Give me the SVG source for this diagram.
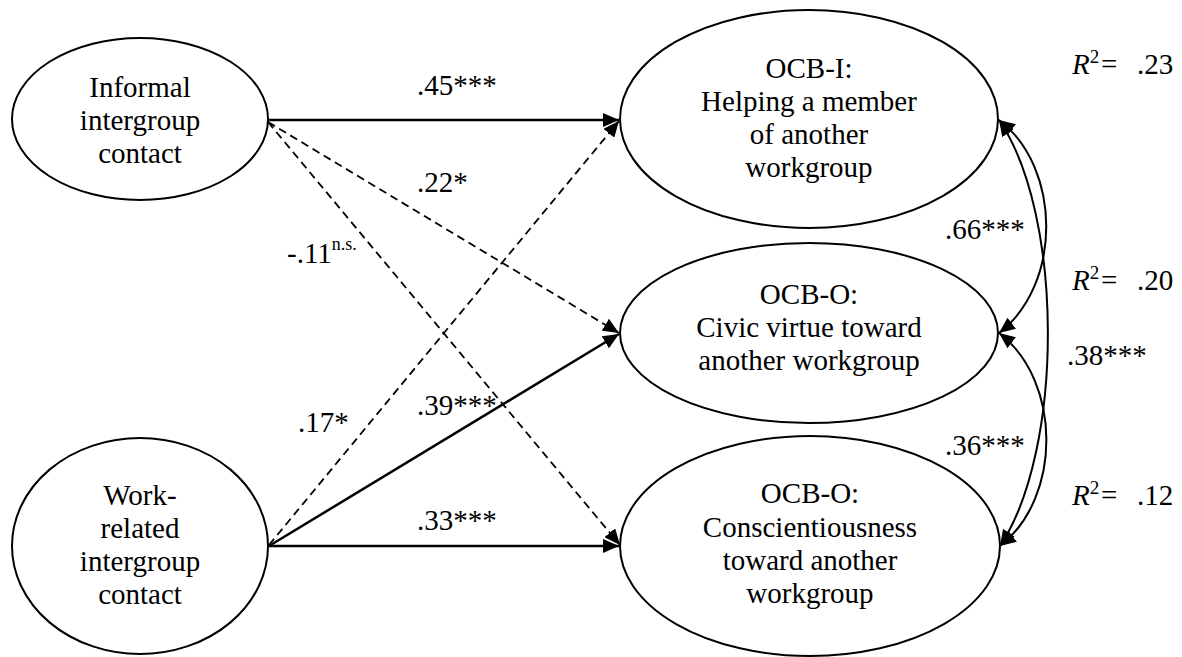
<svg xmlns="http://www.w3.org/2000/svg" width="1182" height="657" viewBox="0 0 1182 657">
<style>
text{font-family:"Liberation Serif","Times New Roman",Times,serif;font-size:29px;fill:#000}
.nt{text-anchor:middle}
.node{fill:#fff;stroke:#000;stroke-width:2}
.solid{fill:none;stroke:#000;stroke-width:2.5}
.dash{fill:none;stroke:#000;stroke-width:1.8;stroke-dasharray:8 5}
.curve{fill:none;stroke:#000;stroke-width:2}
.sup{font-size:19px}
.ns{font-size:18px}
.it{font-style:italic}
</style>
<defs>
<marker id="ah" markerUnits="userSpaceOnUse" markerWidth="17" markerHeight="14" refX="16" refY="7" orient="auto">
<path d="M0,0 L16,7 L0,14 z" fill="#000"/>
</marker>
<marker id="ah2" markerUnits="userSpaceOnUse" markerWidth="17" markerHeight="14" refX="16" refY="7" orient="auto-start-reverse">
<path d="M0,0 L16,7 L0,14 z" fill="#000"/>
</marker>
</defs>
<g id="connectors">
<line class="solid" x1="268" y1="120" x2="619" y2="120" marker-end="url(#ah)"/>
<line class="dash" x1="268" y1="122" x2="619" y2="333" marker-end="url(#ah)"/>
<line class="dash" x1="268" y1="122" x2="620" y2="545" marker-end="url(#ah)"/>
<line class="dash" x1="269" y1="545" x2="619" y2="121" marker-end="url(#ah)"/>
<line class="solid" x1="269" y1="546" x2="619" y2="334" marker-end="url(#ah)"/>
<line class="solid" x1="269" y1="546" x2="619" y2="546" marker-end="url(#ah)"/>
<path class="curve" d="M999,120 C1062,168 1062,285 999,333" marker-start="url(#ah2)" marker-end="url(#ah2)"/>
<path class="curve" d="M999,333 C1062,381 1062,498 1000,546" marker-start="url(#ah2)" marker-end="url(#ah2)"/>
<path class="curve" d="M999,120 C1064,215 1064,450 1000,546" marker-start="url(#ah2)" marker-end="url(#ah2)"/>
</g>
<g id="labels">
<text x="417" y="95">.45***</text>
<text x="417" y="192">.22*</text>
<text x="287" y="263">-.11<tspan class="ns" dy="-13">n.s.</tspan></text>
<text x="298" y="432">.17*</text>
<text x="417" y="415">.39***</text>
<text x="417" y="530">.33***</text>
<text x="945" y="239">.66***</text>
<text x="945" y="455">.36***</text>
<text x="1067" y="365">.38***</text>
<text x="1072" y="74"><tspan class="it">R</tspan><tspan class="sup" dy="-11">2</tspan><tspan x="1101" dy="11">=</tspan><tspan x="1137">.23</tspan></text>
<text x="1072" y="290"><tspan class="it">R</tspan><tspan class="sup" dy="-11">2</tspan><tspan x="1101" dy="11">=</tspan><tspan x="1137">.20</tspan></text>
<text x="1072" y="505"><tspan class="it">R</tspan><tspan class="sup" dy="-11">2</tspan><tspan x="1101" dy="11">=</tspan><tspan x="1137">.12</tspan></text>
</g>
<g id="informal">
<ellipse class="node" cx="140" cy="119" rx="128" ry="81"/>
<text class="nt" x="140" y="97">Informal</text>
<text class="nt" x="140" y="130">intergroup</text>
<text class="nt" x="140" y="163">contact</text>
</g>
<g id="workrelated">
<ellipse class="node" cx="140" cy="546" rx="128" ry="108"/>
<text class="nt" x="140" y="505">Work-</text>
<text class="nt" x="140" y="538">related</text>
<text class="nt" x="140" y="571">intergroup</text>
<text class="nt" x="140" y="604">contact</text>
</g>
<g id="ocbi">
<ellipse class="node" cx="809" cy="119" rx="189" ry="109"/>
<text class="nt" x="809" y="78">OCB-I:</text>
<text class="nt" x="809" y="111">Helping a member</text>
<text class="nt" x="809" y="144">of another</text>
<text class="nt" x="809" y="177">workgroup</text>
</g>
<g id="ocbo-civic">
<ellipse class="node" cx="809" cy="333" rx="189" ry="90"/>
<text class="nt" x="809" y="304">OCB-O:</text>
<text class="nt" x="809" y="337">Civic virtue toward</text>
<text class="nt" x="809" y="370">another workgroup</text>
</g>
<g id="ocbo-consc">
<ellipse class="node" cx="810" cy="546" rx="190" ry="110"/>
<text class="nt" x="810" y="503">OCB-O:</text>
<text class="nt" x="810" y="537">Conscientiousness</text>
<text class="nt" x="810" y="570">toward another</text>
<text class="nt" x="810" y="603">workgroup</text>
</g>
</svg>
